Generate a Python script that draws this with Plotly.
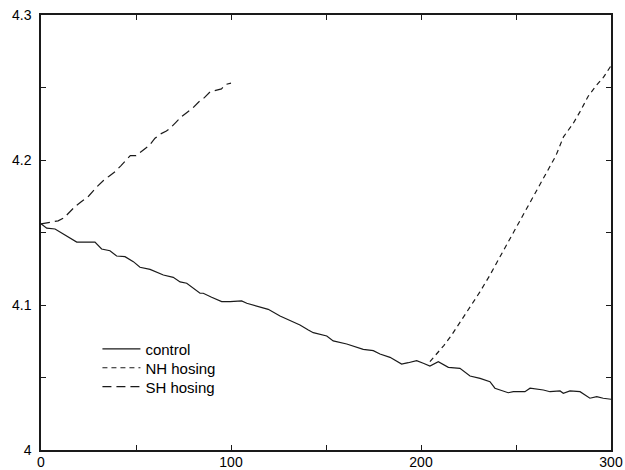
import plotly.graph_objects as go

# Control run
control_x = [0, 3.0, 7.4, 12, 18.8, 28.4, 31.9, 36.3, 39.8, 44.2, 48.6, 52.1, 57.4, 64.4,
             69.6, 73.2, 76.7, 83.7, 85.4, 89.8, 95.1, 99.5, 105.6, 108.3, 115.3, 119.6,
             125.8, 131.1, 136.3, 140.7, 143.3, 150.4, 153.8, 160.9, 164.4, 169.6, 174.9,
             178.4, 183.7, 189.8, 193.3, 197.7, 201.2, 204.7, 209.1, 214.4, 220.5, 225.8,
             231.1, 236.3, 238.9, 245.9, 248.6, 254.7, 257.4, 264.4, 267.9, 273.2, 274.9,
             278.4, 283.7, 288.9, 292.5, 295.9, 300]
control_y = [4.156, 4.153, 4.1524, 4.149, 4.1434, 4.1434, 4.1386, 4.1374, 4.1338, 4.1333,
             4.1299, 4.1260, 4.1246, 4.1207, 4.1191, 4.1159, 4.1150, 4.1081, 4.1081, 4.1053,
             4.1023, 4.1023, 4.1028, 4.1012, 4.0988, 4.0970, 4.0924, 4.0892, 4.0862, 4.0828,
             4.0809, 4.0786, 4.0752, 4.0731, 4.0717, 4.0694, 4.0685, 4.0662, 4.0639, 4.0593,
             4.0602, 4.0616, 4.0598, 4.0579, 4.0609, 4.0570, 4.0563, 4.0510, 4.0494, 4.0471,
             4.0426, 4.0395, 4.0402, 4.0402, 4.0426, 4.0414, 4.0402, 4.0407, 4.0391, 4.0407,
             4.0402, 4.0357, 4.0368, 4.0357, 4.0350]

# Northern Hemisphere hosing, branching off the control run
nh_x = [204.7, 208, 212, 216, 221, 226, 231, 236, 241, 246, 251, 256, 261, 266, 271,
        275, 280, 284, 288, 292, 296, 300]
nh_y = [4.061, 4.066, 4.072, 4.079, 4.089, 4.099, 4.109, 4.120, 4.132, 4.144, 4.156,
        4.167, 4.179, 4.191, 4.203, 4.216, 4.225, 4.234, 4.244, 4.251, 4.257, 4.265]

# Southern Hemisphere hosing
sh_x = [0, 5, 9, 12, 15, 18, 21, 25, 29, 33, 36, 39, 42, 45, 47, 50, 54, 57, 60, 63, 66,
        68, 71, 74, 77, 80, 83, 86, 89, 92, 95, 97, 100]
sh_y = [4.156, 4.157, 4.158, 4.160, 4.164, 4.168, 4.171, 4.175, 4.181, 4.186, 4.189,
        4.192, 4.196, 4.200, 4.203, 4.203, 4.207, 4.210, 4.215, 4.218, 4.220, 4.222,
        4.226, 4.230, 4.233, 4.236, 4.240, 4.243, 4.247, 4.248, 4.249, 4.252, 4.253]

x_tick_vals = [0, 50, 100, 150, 200, 250, 300]
x_tick_text = ["0", "", "100", "", "200", "", "300"]
y_tick_vals = [4.0, 4.05, 4.1, 4.15, 4.2, 4.25, 4.3]
y_tick_text = ["4", "", "4.1", "", "4.2", "", "4.3"]

ink = "#1a1a1a"
family = "Liberation Sans, Arial, sans-serif"
tick_font = dict(family=family, size=14, color="black")
legend_font = dict(family=family, size=15, color="black")

fig = go.Figure()
fig.add_trace(go.Scatter(x=control_x, y=control_y, mode="lines", name="control",
                         line=dict(color=ink, width=1.2), legend="legend"))
fig.add_trace(go.Scatter(x=nh_x, y=nh_y, mode="lines", name="NH hosing",
                         line=dict(color=ink, width=1.2, dash="5px,4px"),
                         legend="legend2"))
fig.add_trace(go.Scatter(x=sh_x, y=sh_y, mode="lines", name="SH hosing",
                         line=dict(color=ink, width=1.2, dash="9px,5px"),
                         legend="legend3"))

axis_common = dict(showgrid=False, zeroline=False, showline=True, linecolor=ink,
                   linewidth=1.5, mirror="ticks", ticks="inside", ticklen=5,
                   tickcolor=ink, tickwidth=1.2, tickfont=tick_font, automargin=False)


def legend_box(y):
    # one entry per box so the rows can sit closer than the default spacing
    return dict(x=0.099, y=y, xanchor="left", yanchor="middle",
                bgcolor="rgba(0,0,0,0)", borderwidth=0, font=legend_font,
                itemwidth=38)


fig.update_layout(
    width=625, height=470,
    margin=dict(l=41, r=14, t=15, b=20),
    paper_bgcolor="white", plot_bgcolor="white",
    font=tick_font,
    showlegend=True,
    legend=legend_box(0.232),
    legend2=legend_box(0.1885),
    legend3=legend_box(0.145),
    xaxis=dict(range=[0, 300], tickmode="array", tickvals=x_tick_vals,
               ticktext=x_tick_text, ticklabelstandoff=-2, **axis_common),
    yaxis=dict(range=[4.0, 4.3], tickmode="array", tickvals=y_tick_vals,
               ticktext=y_tick_text, ticklabelstandoff=5, **axis_common),
)

fig.write_html("out.html")
